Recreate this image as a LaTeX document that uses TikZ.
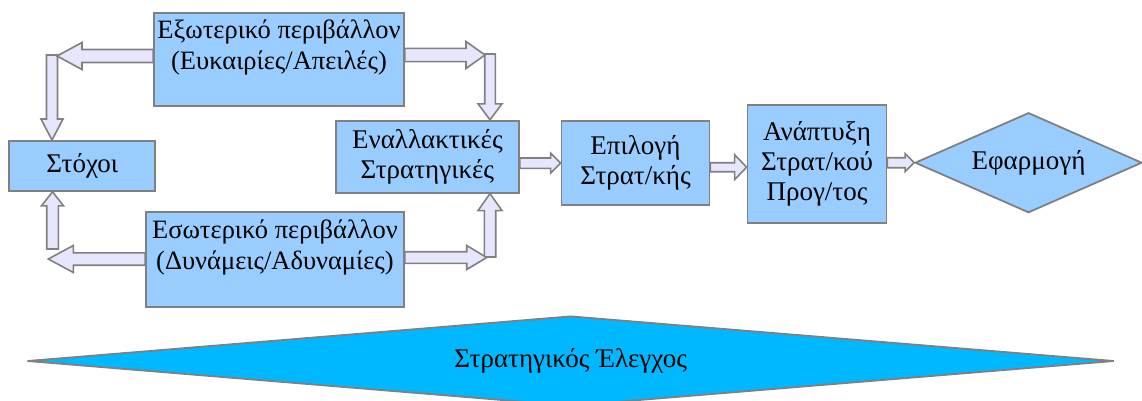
\documentclass[tikz,border=0pt]{standalone}
\usepackage{fontspec}
\setmainfont{Liberation Serif}
\usetikzlibrary{calc,positioning,shapes.geometric,backgrounds}
\definecolor{boxblue}{HTML}{99CCFF}
\definecolor{ctrlblue}{HTML}{00B8FF}
\definecolor{edgegray}{HTML}{808080}
\definecolor{arrowfill}{HTML}{E6E6FC}
\tikzset{
  fat shaft/.store in=\fatshaft, fat head/.store in=\fathead, fat len/.store in=\fatlen,
  fat shaft=6, fat head=12, fat len=20,
  fat/.style={draw=edgegray, fill=arrowfill, line width=1.6pt,
    to path={let \p1=($(\tikztotarget)-(\tikztostart)$), \n1={atan2(\y1,\x1)}, \n2={veclen(\x1,\y1)-\fatlen} in
      ($(\tikztostart)+(\n1+90:\fatshaft pt)$) -- ++(\n1:\n2) -- ++(\n1+90:\fathead pt-\fatshaft pt) -- (\tikztotarget)
      -- ($(\tikztostart)+(\n1:\n2)+(\n1-90:\fathead pt)$) -- ++(\n1+90:\fathead pt-\fatshaft pt)
      -- ($(\tikztostart)+(\n1-90:\fatshaft pt)$) -- cycle}}
}
\begin{document}
\begin{tikzpicture}[x=1pt,y=-1pt,font=\fontsize{27}{30}\selectfont,
  box/.style={draw=edgegray,fill=boxblue,line width=1.8pt,align=center,inner sep=0pt},
  rhomb/.style={diamond,draw=edgegray,line width=1.8pt,inner sep=0pt,align=center},
  txt/.style={align=center,inner sep=0pt,font=\fontsize{26.5}{31}\selectfont}]
\useasboundingbox (0,0) rectangle (1142,400);
%boxes
\node[box,minimum width=250,minimum height=93,
  label={[txt,anchor=north,yshift=-8]north:{Εξωτερικό περιβάλλον\\(Ευκαιρίες/Απειλές)}}] (ext) at (279,59.5) {};
\node[box,minimum width=146,minimum height=50] (goals) at (82.3,165.9) {Στόχοι};
\node[box,minimum width=258,minimum height=95,
  label={[txt,anchor=north,yshift=-8]north:{Εσωτερικό περιβάλλον\\(Δυνάμεις/Αδυναμίες)}}] (int) at (275,259.7) {};
\node[box,minimum width=183,minimum height=72] (alt) at (427.4,156.7) {Εναλλακτικές\\Στρατηγικές};
\node[box,minimum width=148,minimum height=84] (choice) at (635.5,163.2) {Επιλογή\\Στρατ/κής};
\node[box,minimum width=139,minimum height=118] (dev) at (817,163.9) {Ανάπτυξη\\Στρατ/κού\\Προγ/τος};
\node[rhomb,fill=boxblue,aspect=2.27,minimum width=227,minimum height=100] (impl) at (1028.5,162.7) {Εφαρμογή};
\node[rhomb,fill=ctrlblue,aspect=12,minimum width=1087,minimum height=90] (ctrl) at (570.7,361) {Στρατηγικός Έλεγχος};

%corners of the loop
\coordinate (tlh) at (57,56);
\coordinate (tlv) at (52,55);
\coordinate (trh) at (485,55);
\coordinate (trv) at (490,54);
\coordinate (blv) at (52.5,249);
\coordinate (blh) at (48.3,259);
\coordinate (brh) at (486.7,257.5);
\coordinate (brv) at (490,257);

\begin{scope}[on background layer]
%left side
\draw[fat,fat shaft=5.5,fat head=11,fat len=21] (tlv) to (tlv |- goals.north);
\draw[fat,fat shaft=6.5,fat head=13.5,fat len=25] (ext.west |- tlh) to (tlh);
\draw[fat,fat shaft=5.8,fat head=11,fat len=14] (blv) to (blv |- goals.south);
\draw[fat,fat shaft=6.2,fat head=13.5,fat len=25] (int.west |- blh) to (blh);
%right side
\draw[fat,fat shaft=5.3,fat head=12,fat len=16] (trv) to (trv |- alt.north);
\draw[fat,fat shaft=6.6,fat head=13.5,fat len=19] (ext.east |- trh) to (trh);
\draw[fat,fat shaft=5.7,fat head=12,fat len=17] (brv) to (brv |- alt.south);
\draw[fat,fat shaft=5.8,fat head=12,fat len=20] (int.east |- brh) to (brh);
%main chain
\draw[fat,fat shaft=5.2,fat head=10,fat len=10] (alt.east |- choice.west) to (choice.west);
\draw[fat,fat shaft=4.5,fat head=12.5,fat len=12] ([yshift=-4]choice.east) to ([yshift=-4]choice.east -| dev.west);
\draw[fat,fat shaft=5,fat head=9,fat len=9] (dev.east |- impl.west) to (impl.west);
\end{scope}
\end{tikzpicture}
\end{document}
